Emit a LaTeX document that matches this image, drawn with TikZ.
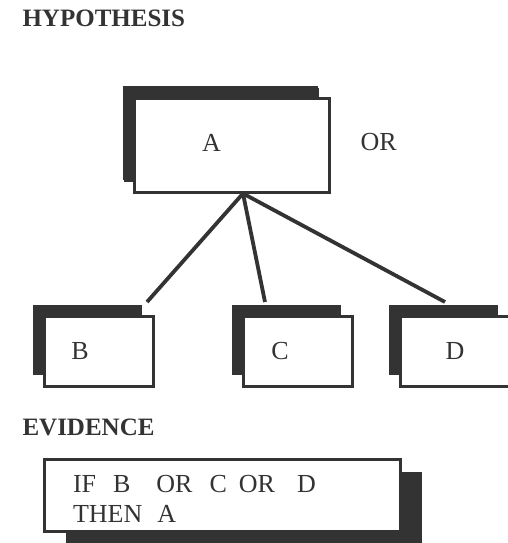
\documentclass[tikz,border=0pt]{standalone}
\usepackage{fontspec}
\setmainfont{Liberation Serif}
\usetikzlibrary{shadows,backgrounds}

\definecolor{ink}{HTML}{333333}

\tikzset{
  box/.style={draw=ink, line width=3pt, fill=white, minimum width=109pt,
    minimum height=70pt, inner sep=0pt,
    general shadow={fill=ink, shadow xshift=-12pt, shadow yshift=12pt}},
  heading/.style={anchor=base west, text=ink,
    font=\fontsize{25}{28}\selectfont\bfseries},
  link/.style={draw=ink, line width=3.8pt},
  every label/.style={text=ink}
}

\begin{document}
\begin{tikzpicture}[x=1pt, y=-1pt, font=\fontsize{26}{30}\selectfont]
  \useasboundingbox (0,0) rectangle (508,543);
  \clip (0,0) rectangle (508,543);

  \node[heading] (hyp) at (19,27) {HYPOTHESIS};
  \node[heading] (evi) at (19,435) {EVIDENCE};

  \node[box, minimum width=195pt, minimum height=94pt,
    general shadow={fill=ink, shadow xshift=-11pt, shadow yshift=10pt},
    label={[xshift=-20.5pt, yshift=2.5pt]center:A}] (boxA) at (232,145) {};
  \node[anchor=base west, text=ink] (or) at (357,150) {OR};

  \node[box, label={[xshift=-19pt]center:B}] (boxB) at (99,351.5) {};
  \node[box, label={[xshift=-18pt]center:C}] (boxC) at (298,351.5) {};
  \node[box, label={center:D}] (boxD) at (455,351.5) {};

  \coordinate (hub) at ([xshift=11pt]boxA.south);
  \coordinate (endB) at ([shift={(-8,-13)}]boxB.north east);
  \coordinate (endC) at ([shift={(-33,-13)}]boxC.north);
  \coordinate (endD) at ([shift={(-10,-13)}]boxD.north);
  \begin{scope}[on background layer]
    \draw[link] (hub) -- (endB);
    \draw[link] (hub) -- (endC);
    \draw[link] (hub) -- (endD);
  \end{scope}

  \node[draw=ink, line width=3pt, fill=white, text=ink, align=left,
    text width=299pt, minimum height=72pt, inner xsep=28.5pt,
    general shadow={fill=ink, shadow xshift=21pt, shadow yshift=-12pt}]
    (rule) at (222.5,495.5)
    {\rule{0pt}{23pt}IF\hspace{17pt}B\hspace{26pt}OR\hspace{17pt}C\hspace{12pt}OR\hspace{22pt}D\\
     THEN\hspace{15pt}A};
\end{tikzpicture}
\end{document}
